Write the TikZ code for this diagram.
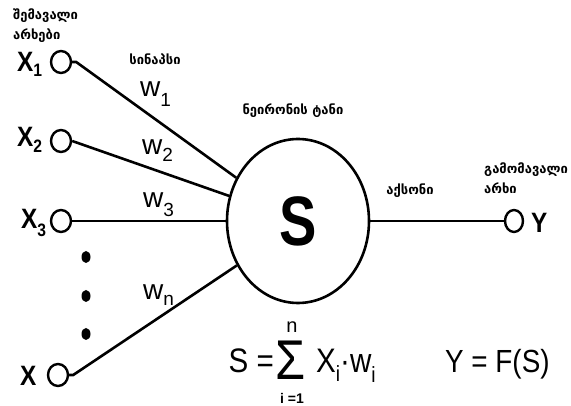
\documentclass[tikz,border=0pt]{standalone}
\usepackage{fontspec}
\usepackage{graphicx}
\setmainfont{Liberation Sans}
\newfontfamily\geo{DejaVu Sans}
\usetikzlibrary{shapes.geometric}
\newcommand\lowsub[3]{\raisebox{-#3}{\fontsize{#2}{#2}\selectfont #1}}
\newcommand\cond[1]{\scalebox{0.87}[1]{#1}}
\begin{document}
\begin{tikzpicture}[x=1pt,y=-1pt,
  wire/.style={line width=2.6pt},
  port/.style={ellipse, draw, line width=2.4pt, minimum width=20pt, minimum height=22pt, inner sep=0pt},
  vdot/.style={ellipse, fill, minimum width=9pt, minimum height=12pt, inner sep=0pt},
  geolbl/.style={font=\geo\bfseries\fontsize{13}{20}\selectfont, inner sep=0pt},
  xlbl/.style={font=\bfseries\fontsize{28}{28}\selectfont, inner sep=0pt, anchor=base west},
  wlbl/.style={font=\fontsize{28}{28}\selectfont, inner sep=0pt, anchor=base west},
  formula/.style={inner sep=0pt, anchor=base west}
  ]
\fill[white] (0,0) rectangle (571,406);
\useasboundingbox (0,0) rectangle (571,406);

% input / output ports
\node[port] (x1) at (61,62) {};
\node[port] (x2) at (61,141) {};
\node[port] (x3) at (61,221) {};
\node[port] (xn) at (58,375) {};
\node[port, minimum width=18pt] (yo) at (514,221) {};

% neuron body
\node[ellipse, draw, line width=2.6pt, minimum width=142pt, minimum height=164pt, inner sep=0pt,
      font=\bfseries\fontsize{70}{70}\selectfont] (neuron) at (298,221) {\scalebox{0.8}[1]{S}};

% dots
\node[vdot] (d1) at (86,257) {};
\node[vdot] (d2) at (86,296) {};
\node[vdot] (d3) at (86,334) {};

% connectors
\draw[wire] (x1.east) -- ++(4,0) -- (neuron.145);
\draw[wire] (x2.east) -- (neuron.160);
\draw[wire] (x3.east) -- (x3.east -| neuron.west);
\draw[wire] (xn.east) -- ++(4,0) -- (neuron.216);
\draw[wire] (neuron.east) -- (yo.west);

% input labels
\node[xlbl] (lx1) at (17,72) {\cond{X\lowsub{1}{18}{5pt}}};
\node[xlbl] (lx2) at (17,147) {\cond{X\lowsub{2}{18}{6pt}}};
\node[xlbl] (lx3) at (21,229) {\cond{X\lowsub{3}{18}{8pt}}};
\node[xlbl] (lxn) at (20,385) {\cond{X}};
\node[xlbl] (ly) at (531,233) {\cond{Y}};

% weights
\node[wlbl] (w1) at (140,97) {w\lowsub{1}{19}{10pt}};
\node[wlbl] (w2) at (142,155) {w\lowsub{2}{19}{7pt}};
\node[wlbl] (w3) at (143,208) {w\lowsub{3}{19}{9pt}};
\node[wlbl] (wn) at (143,300) {w\lowsub{n}{19}{6pt}};

% georgian labels
\node[geolbl, align=left, anchor=north west] (lin) at (13,9) {შემავალი\\არხები};
\node[geolbl] (lsyn) at (155,59) {სინაპსი};
\node[geolbl] (lbody) at (293,111) {ნეირონის ტანი};
\node[geolbl] (lax) at (410,191) {აქსონი};
\node[geolbl, align=left, anchor=north west] (lout) at (484,163) {გამომავალი\\არხი};

% formulas
\node[inner sep=0pt, anchor=base east, font=\fontsize{34}{34}\selectfont] (fs) at (274,373) {\cond{S =}};
\node[inner sep=0pt, font=\fontsize{56}{56}\selectfont] (sig) at (291,360) {\cond{Σ}};
\node[inner sep=0pt, font=\fontsize{20}{20}\selectfont] (sup) at (292,327) {n};
\node[inner sep=0pt, font=\bfseries\fontsize{14}{14}\selectfont] (lim) at (292,398) {i =1};
\node[formula, font=\fontsize{34}{34}\selectfont] (term) at (316,373) {\cond{X\lowsub{i}{22}{9pt}·w\lowsub{i}{22}{10pt}}};
\node[formula, font=\fontsize{32}{32}\selectfont] (yf) at (445,373) {\cond{Y = F(S)}};
\end{tikzpicture}
\end{document}
